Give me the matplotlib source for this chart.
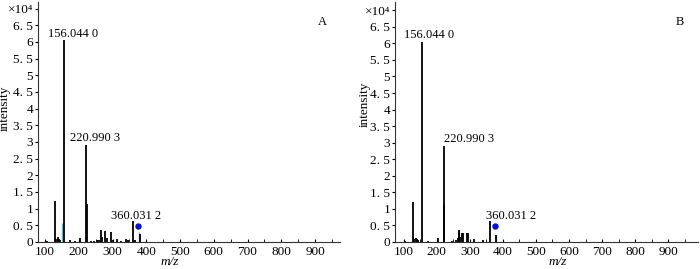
import matplotlib
matplotlib.use("Agg")
import matplotlib.pyplot as plt
from matplotlib.ticker import MultipleLocator

plt.rcParams['font.family'] = ['Liberation Serif', 'DejaVu Serif']
plt.rcParams['font.size'] = 9

# spectrum A
mzA = [105, 129.6, 133, 137, 141, 145, 156.044, 175, 190, 203.7, 220.990, 223.5,
       235, 245, 255, 260, 266, 269, 279, 283, 296, 300, 313, 325, 340, 345,
       360.031, 365, 380]
intA = [0.03, 1.22, 0.08, 0.15, 0.10, 0.07, 6.05, 0.05, 0.03, 0.12, 2.90, 1.13,
        0.04, 0.04, 0.05, 0.06, 0.37, 0.15, 0.32, 0.12, 0.30, 0.05, 0.10, 0.03, 0.10, 0.07,
        0.63, 0.05, 0.25]
cyanA_mz = [150, 378]
cyanA_int = [0.57, 0.30]

# spectrum B
mzB = [105, 129.6, 131, 137, 141, 145, 156.044, 175, 205, 220.990, 223.5,
       245, 258, 263, 266, 268, 272, 278, 281, 293, 296, 312, 340,
       360.031, 380]
intB = [0.02, 1.22, 0.10, 0.12, 0.08, 0.06, 6.05, 0.03, 0.13, 2.90, 1.13,
        0.03, 0.06, 0.12, 0.35, 0.33, 0.15, 0.28, 0.28, 0.28, 0.28, 0.08, 0.07,
        0.63, 0.22]
cyanB_mz = [378]
cyanB_int = [0.20]

# precursor marker (blue dot)
dotMz = 376
dotInt = 0.47

labelMz = [156.044, 220.990, 360.031]
labelText = ["156.044 0", "220.990 3", "360.031 2"]

yticks = [0, 0.5, 1, 1.5, 2, 2.5, 3, 3.5, 4, 4.5, 5, 5.5, 6, 6.5, 7]
ytickLabels = ["0", "0. 5", "1", "1. 5", "2", "2. 5", "3", "3. 5", "4", "4. 5",
               "5", "5. 5", "6", "6. 5", "×10⁴"]

W, H = 700, 269


def px(x0, y0, x1, y1):
    return [x0 / W, 1 - y1 / H, (x1 - x0) / W, (y1 - y0) / H]


def drawSpectrum(ax, mz, inten, cyanMz, cyanInt, xlim, ylim, letter, labelOffsets):
    ax.vlines(cyanMz, 0, cyanInt, color='#5fb8c8', lw=1.0)
    ax.vlines(mz, 0, inten, color='black', lw=1.3)
    ax.plot([dotMz], [dotInt], 'o', color='#0010e0', ms=3.6, zorder=5)

    for m, t, (dx, dy) in zip(labelMz, labelText, labelOffsets):
        top = max(i for x, i in zip(mz, inten) if abs(x - m) < 1)
        ax.text(m + dx, top + dy, t, ha='left', va='center', fontsize=9)

    ax.set_xlim(*xlim)
    ax.set_ylim(*ylim)
    ax.set_xticks(range(100, 1000, 100))
    ax.xaxis.set_minor_locator(MultipleLocator(50))
    ax.set_yticks(yticks)
    ax.set_yticklabels(ytickLabels)
    ax.tick_params(axis='both', labelsize=9.5)
    ax.tick_params(axis='x', which='both', direction='in', length=2.5, pad=3)
    ax.tick_params(axis='y', direction='out', length=2.5, pad=1)
    for s in ['top', 'right']:
        ax.spines[s].set_visible(False)
    for s in ['left', 'bottom']:
        ax.spines[s].set_linewidth(0.8)
        ax.spines[s].set_color('#333333')
    ax.text(0.94, 0.915, letter, transform=ax.transAxes, ha='center', va='center',
            fontsize=9)


fig = plt.figure(figsize=(7, 2.69), dpi=100)

axA = fig.add_axes(px(38, 2, 340, 242))
drawSpectrum(axA, mzA, intA, cyanA_mz, cyanA_int, (79, 974), (0, 7.2), "A",
             [(-47, 0.2), (-47, 0.22), (-64, 0.15)])

axB = fig.add_axes(px(395, 2, 698, 242))
drawSpectrum(axB, mzB, intB, cyanB_mz, cyanB_int, (74, 990), (0, 7.25), "B",
             [(-55, 0.2), (2, 0.22), (-12, 0.15)])

fig.text(5 / W, 1 - 108 / H, "intensity", rotation=90, ha='center', va='center',
         fontsize=9.5)
fig.text(365 / W, 1 - 104 / H, "intensity", rotation=90, ha='center', va='center',
         fontsize=9.5)
fig.text(170 / W, 1 - 262 / H, "m/z", style='italic', ha='center', va='center',
         fontsize=9.5)
fig.text(558 / W, 1 - 262 / H, "m/z", style='italic', ha='center', va='center',
         fontsize=9.5)

fig.savefig("out.png", dpi=100)
